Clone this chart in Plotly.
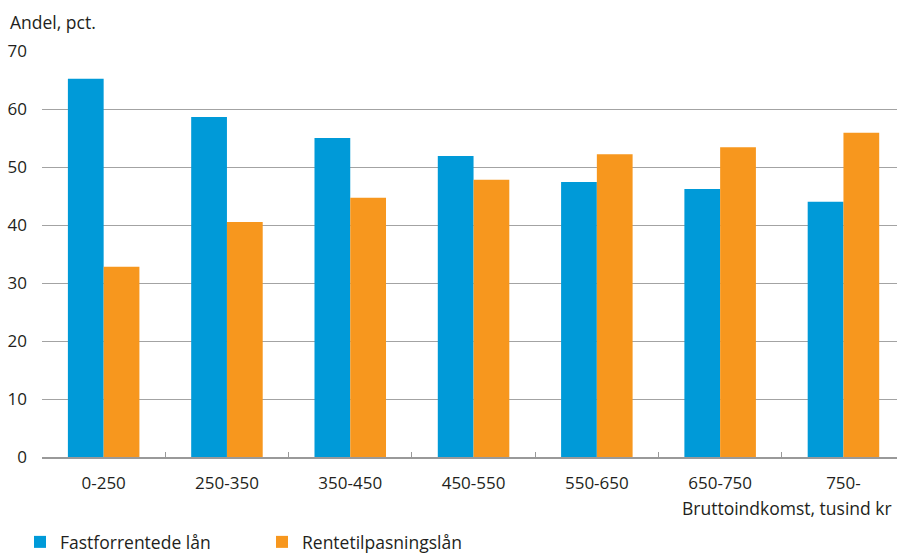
import plotly.graph_objects as go

categories = ["0-250", "250-350", "350-450", "450-550", "550-650", "650-750", "750-"]
fastforrentede = [65.2, 58.6, 55.0, 51.9, 47.4, 46.2, 44.0]
rentetilpasning = [32.8, 40.5, 44.7, 47.8, 52.2, 53.4, 55.9]
y_ticks = [0, 10, 20, 30, 40, 50, 60, 70]

BLUE = "#009AD8"
ORANGE = "#F7971E"
TEXT = "#231F20"
FONT = "Open Sans"

W, H = 897, 553
ML, MR, MT, MB = 42, 0, 51, 96
PW, PH = W - ML - MR, H - MT - MB

fig = go.Figure()
fig.add_trace(go.Bar(x=categories, y=fastforrentede, name="Fastforrentede lån",
                     marker=dict(color=BLUE, line=dict(width=0))))
fig.add_trace(go.Bar(x=categories, y=rentetilpasning, name="Rentetilpasningslån",
                     marker=dict(color=ORANGE, line=dict(width=0))))

cat_px = 123.3
span = PW / cat_px

def px_x(x):
    return (x - ML) / PW

def px_y(y):
    return (MT + PH - y) / PH

fig.update_layout(
    width=W, height=H,
    margin=dict(l=ML, r=MR, t=MT, b=MB, autoexpand=False),
    paper_bgcolor="white", plot_bgcolor="white",
    font=dict(family=FONT, size=17, color=TEXT),
    barmode="group", bargap=0.42, bargroupgap=0,
    showlegend=True,
    legend=dict(orientation="h", x=px_x(20), y=px_y(524), xanchor="left", yanchor="top",
                font=dict(size=17.5, color=TEXT), entrywidth=197, entrywidthmode="pixels",
                itemwidth=30, bgcolor="rgba(0,0,0,0)", traceorder="normal"),
    xaxis=dict(type="category", range=[-0.5, -0.5 + span],
               showline=True, linecolor="#999999", linewidth=1.5,
               ticks="inside", ticklen=5, tickcolor="#999999", tickwidth=1,
               tickson="boundaries", showgrid=False, ticklabelstandoff=10,
               tickfont=dict(size=17, color=TEXT)),
    yaxis=dict(range=[0, 70], tickvals=y_ticks, showgrid=True, gridcolor="#A3A3A3",
               gridwidth=1.2, zeroline=False, showline=False, ticks="",
               ticklabelstandoff=14, tickfont=dict(size=17, color=TEXT)),
    annotations=[
        dict(text="Andel, pct.", xref="paper", yref="paper", x=px_x(8), y=px_y(22),
             xanchor="left", yanchor="middle", showarrow=False,
             font=dict(size=17.5, color=TEXT)),
        dict(text="Bruttoindkomst, tusind kr", xref="paper", yref="paper",
             x=px_x(894), y=px_y(508), xanchor="right", yanchor="middle", showarrow=False,
             font=dict(size=17.5, color=TEXT)),
    ],
)

fig.write_html(
    "out.html",
    config={"displayModeBar": False},
    post_script="document.body.style.margin='0';document.body.style.overflow='hidden';",
)
